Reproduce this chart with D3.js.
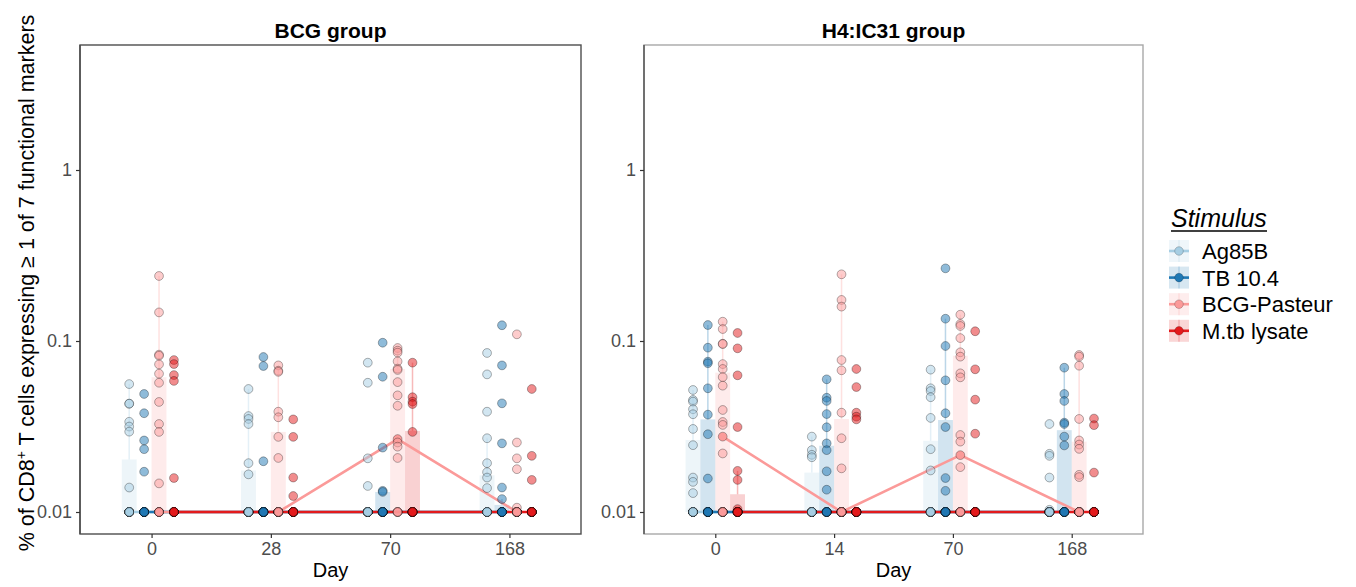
<!DOCTYPE html>
<html>
<head>
<meta charset="utf-8">
<script src="https://cdn.jsdelivr.net/npm/d3@7"></script>
<style>
  body { margin: 0; background: #fff; }
  text { font-family: "Liberation Sans", Arial, Helvetica, sans-serif; }
</style>
</head>
<body>
<svg id="chart" width="1356" height="587"></svg>
<script>
// stimuli and colours (RColorBrewer "Paired")
const stimuli = ["Ag85B", "TB 10.4", "BCG-Pasteur", "M.tb lysate"];
const colors = ["#a6cee3", "#1f78b4", "#fb9a99", "#e31a1c"];

const bcgDays = ["0", "28", "70", "168"];
const h4Days = ["0", "14", "70", "168"];
const yTicks = [0.01, 0.1, 1];

// responses above the 0.01 floor, [stimulus][day]
const bcgPoints = [
  [[0.056, 0.043, 0.043, 0.0337, 0.0316, 0.0295, 0.0139],
   [0.0524, 0.0364, 0.035, 0.0327, 0.0193, 0.0166],
   [0.0747, 0.057, 0.0206, 0.0142],
   [0.0851, 0.0638, 0.0386, 0.027, 0.0193, 0.0171, 0.0159, 0.0138]],
  [[0.049, 0.0378, 0.0262, 0.0233, 0.0172],
   [0.0806, 0.0714, 0.0198],
   [0.0977, 0.0618, 0.0238, 0.0133, 0.0131],
   [0.1236, 0.072, 0.0432, 0.0252, 0.0139, 0.0119]],
  [[0.24, 0.147, 0.0832, 0.082, 0.073, 0.0644, 0.057, 0.044, 0.0327, 0.0294, 0.0147],
   [0.072, 0.067, 0.066, 0.0386, 0.0358, 0.0275, 0.0207],
   [0.091, 0.0878, 0.0855, 0.076, 0.0689, 0.0677, 0.0575, 0.0481, 0.0418, 0.0267, 0.0255, 0.0241, 0.0207],
   [0.1094, 0.0255, 0.0206, 0.0178, 0.0106]],
  [[0.0774, 0.0733, 0.0632, 0.0584, 0.0158],
   [0.0348, 0.0275, 0.0159, 0.0124],
   [0.0747, 0.0469, 0.0442, 0.0428, 0.0294],
   [0.0524, 0.0213, 0.0154]]
];
// number of subjects at the 0.01 floor
const bcgFloor = [[9, 10, 12, 8], [11, 13, 11, 10], [6, 9, 4, 11], [11, 12, 11, 13]];
const bcgBars = [
  [0.0203, 0.0175, null, 0.0164],
  [null, null, 0.0131, 0.011],
  [0.0614, 0.0294, 0.0686, null],
  [null, null, 0.0298, null]
];
const bcgErrTop = [
  [0.056, 0.0524, null, 0.027],
  [null, null, 0.0131, 0.0119],
  [0.24, 0.072, 0.091, null],
  [null, null, 0.0747, null]
];
const bcgMedians = [
  [0.01, 0.01, 0.01, 0.01],
  [0.01, 0.01, 0.01, 0.01],
  [0.01, 0.01, 0.0267, 0.01],
  [0.01, 0.01, 0.01, 0.01]
];

const h4Points = [
  [[0.0517, 0.0452, 0.0442, 0.0399, 0.0373, 0.0306, 0.0246, 0.0159, 0.015, 0.0129],
   [0.0276, 0.023, 0.0216, 0.0209],
   [0.068, 0.0529, 0.051, 0.0469, 0.0355, 0.0233, 0.0175],
   [0.0327, 0.0219, 0.0213, 0.0159, 0.0103]],
  [[0.124, 0.0914, 0.0757, 0.0741, 0.0529, 0.0371, 0.0285, 0.0157],
   [0.0597, 0.0466, 0.0446, 0.0374, 0.0313, 0.0252, 0.023, 0.0173, 0.0135],
   [0.266, 0.135, 0.0935, 0.0589, 0.0378, 0.0314, 0.0158, 0.0133],
   [0.0698, 0.049, 0.0446, 0.0333, 0.0327, 0.0276, 0.0245]],
  [[0.1297, 0.1175, 0.0964, 0.096, 0.0733, 0.0686, 0.0615, 0.0548, 0.0395, 0.0336, 0.0323, 0.0276, 0.022],
   [0.2455, 0.1738, 0.1589, 0.0774, 0.0674, 0.0381, 0.027, 0.018],
   [0.1425, 0.1257, 0.1224, 0.104, 0.0859, 0.081, 0.0647, 0.0613, 0.0282, 0.0258, 0.0215, 0.0183],
   [0.0828, 0.081, 0.0717, 0.035, 0.0262, 0.0248, 0.0234, 0.0165, 0.016]],
  [[0.1114, 0.0906, 0.063, 0.0314, 0.0174, 0.0154, 0.0104],
   [0.0686, 0.0538, 0.0381, 0.0361, 0.0348],
   [0.114, 0.0683, 0.0454, 0.0287],
   [0.0352, 0.0322, 0.017]]
];
const h4Floor = [[10, 12, 9, 11], [10, 8, 10, 9], [8, 12, 7, 10], [12, 13, 12, 14]];
const h4Bars = [
  [0.0264, 0.017, 0.0261, null],
  [0.0348, 0.0244, 0.0345, 0.0301],
  [0.0653, 0.035, 0.082, 0.0258],
  [0.0127, null, null, null]
];
const h4ErrTop = [
  [0.0517, 0.0276, 0.068, null],
  [0.124, 0.0597, 0.135, 0.0698],
  [0.1297, 0.2455, 0.1425, 0.0828],
  [0.0174, null, null, null]
];
const h4Medians = [
  [0.01, 0.01, 0.01, 0.01],
  [0.01, 0.01, 0.01, 0.01],
  [0.0276, 0.01, 0.0215, 0.01],
  [0.01, 0.01, 0.01, 0.01]
];

const svg = d3.select("#chart");
const panelTop = 45, panelBottom = 534;
const y = d3.scaleLog().domain([0.01, 1]).range([512, 170]);

const panels = [
  { title: "BCG group", days: bcgDays, pts: bcgPoints, floor: bcgFloor, bars: bcgBars, err: bcgErrTop, med: bcgMedians,
    x0: 80, x1: 581, frame: "#4d4d4d" },
  { title: "H4:IC31 group", days: h4Days, pts: h4Points, floor: h4Floor, bars: h4Bars, err: h4ErrTop, med: h4Medians,
    x0: 644, x1: 1143, frame: "#a8a8a8" }
];

panels.forEach(p => {
  const x = d3.scalePoint().domain(p.days).range([p.x0, p.x1]).padding(0.6);
  const step = x.step();
  const dodge = d3.scaleBand().domain(stimuli).range([-step * 0.25, step * 0.25]);
  const bw = dodge.bandwidth();
  const cx = (di, si) => x(p.days[di]) + dodge(stimuli[si]) + bw / 2;

  const g = svg.append("g");

  // bars + thin range lines
  const barData = [];
  stimuli.forEach((s, si) => p.days.forEach((d, di) => {
    if (p.bars[si][di] != null) barData.push({ si, di, v: p.bars[si][di], top: p.err[si][di] });
  }));

  g.selectAll(".bar").data(barData).enter().append("rect")
    .attr("x", d => cx(d.di, d.si) - bw / 2)
    .attr("width", bw)
    .attr("y", d => y(d.v))
    .attr("height", d => y(0.01) - y(d.v))
    .attr("fill", d => colors[d.si])
    .attr("fill-opacity", 0.2);

  g.selectAll(".err").data(barData.filter(d => d.top > d.v)).enter().append("line")
    .attr("x1", d => cx(d.di, d.si)).attr("x2", d => cx(d.di, d.si))
    .attr("y1", d => y(d.v)).attr("y2", d => y(d.top))
    .attr("stroke", d => colors[d.si])
    .attr("stroke-opacity", 0.3)
    .attr("stroke-width", 1.5);

  // median lines
  const line = d3.line().x(d => d[0]).y(d => d[1]);
  stimuli.forEach((s, si) => {
    const pts = p.days.map((d, di) => [cx(di, si), y(p.med[si][di])]);
    g.append("path").datum(pts)
      .attr("d", line)
      .attr("fill", "none")
      .attr("stroke", colors[si])
      .attr("stroke-width", 2.6);
    g.selectAll(null).data(pts).enter().append("circle")
      .attr("cx", d => d[0]).attr("cy", d => d[1])
      .attr("r", 4.2)
      .attr("fill", colors[si]);
  });

  // individual subjects
  const dots = [];
  stimuli.forEach((s, si) => p.days.forEach((d, di) => {
    p.pts[si][di].forEach(v => dots.push({ si, di, v }));
    d3.range(p.floor[si][di]).forEach(() => dots.push({ si, di, v: 0.01 }));
  }));
  g.selectAll(".dot").data(dots).enter().append("circle")
    .attr("cx", d => cx(d.di, d.si))
    .attr("cy", d => y(d.v))
    .attr("r", 4.4)
    .attr("fill", d => colors[d.si])
    .attr("fill-opacity", 0.5)
    .attr("stroke", "#000")
    .attr("stroke-opacity", 0.3)
    .attr("stroke-width", 1);

  // frame
  g.append("rect")
    .attr("x", p.x0).attr("y", panelTop)
    .attr("width", p.x1 - p.x0).attr("height", panelBottom - panelTop)
    .attr("fill", "none").attr("stroke", p.frame).attr("stroke-width", 1.4);
  g.append("line")
    .attr("x1", p.x0).attr("x2", p.x0).attr("y1", panelTop).attr("y2", panelBottom)
    .attr("stroke", "#4d4d4d").attr("stroke-width", 1.4);

  // axes
  const yAxis = g.append("g").attr("transform", `translate(${p.x0},0)`)
    .call(d3.axisLeft(y).tickValues(yTicks).tickFormat(d3.format("~g")).tickSize(4).tickPadding(4));
  const xAxis = g.append("g").attr("transform", `translate(0,${panelBottom})`)
    .call(d3.axisBottom(x).tickSize(4).tickPadding(4));
  [yAxis, xAxis].forEach(a => {
    a.select(".domain").remove();
    a.selectAll("line").attr("stroke", "#333").attr("stroke-width", 1.2);
    a.selectAll("text").attr("fill", "#4d4d4d").style("font-size", "18px")
      .style("font-family", "'Liberation Sans', Arial, sans-serif");
  });

  g.append("text")
    .attr("x", (p.x0 + p.x1) / 2).attr("y", 38)
    .attr("text-anchor", "middle")
    .style("font-size", "21px").style("font-weight", "bold")
    .text(p.title);

  g.append("text")
    .attr("x", (p.x0 + p.x1) / 2).attr("y", 577)
    .attr("text-anchor", "middle")
    .style("font-size", "20px")
    .text("Day");
});

// y title
const yTitle = svg.append("text")
  .attr("transform", "translate(34,283) rotate(-90)")
  .attr("text-anchor", "middle")
  .style("font-size", "21.5px");
yTitle.append("tspan").text("% of CD8");
yTitle.append("tspan").attr("baseline-shift", "super").style("font-size", "14px").text("+");
yTitle.append("tspan").text(" T cells expressing \u2265 1 of 7 functional markers");

// legend
const legend = svg.append("g").attr("transform", "translate(1170,0)");
legend.append("text")
  .attr("x", 1).attr("y", 227)
  .style("font-size", "25px").style("font-style", "italic")
  .text("Stimulus");
legend.append("line")
  .attr("x1", 1).attr("x2", 97).attr("y1", 231).attr("y2", 231)
  .attr("stroke", "#000").attr("stroke-width", 1.3);

const items = legend.selectAll(".item").data(stimuli).enter().append("g")
  .attr("transform", (d, i) => `translate(0,${251 + i * 26.6})`);
items.append("rect")
  .attr("x", -1).attr("y", -11).attr("width", 20).attr("height", 22)
  .attr("fill", (d, i) => colors[i]).attr("fill-opacity", 0.18);
items.append("line")
  .attr("x1", 9).attr("x2", 9).attr("y1", -11).attr("y2", 11)
  .attr("stroke", (d, i) => colors[i]).attr("stroke-opacity", 0.2).attr("stroke-width", 1.5);
items.append("line")
  .attr("x1", -1).attr("x2", 19).attr("y1", 0).attr("y2", 0)
  .attr("stroke", (d, i) => colors[i]).attr("stroke-width", 2.6);
items.append("circle")
  .attr("cx", 9).attr("cy", 0).attr("r", 4.3)
  .attr("fill", (d, i) => colors[i])
  .attr("stroke", "#000").attr("stroke-opacity", 0.2);
items.append("text")
  .attr("x", 32).attr("y", 8)
  .style("font-size", "22px")
  .text(d => d);
</script>
</body>
</html>
